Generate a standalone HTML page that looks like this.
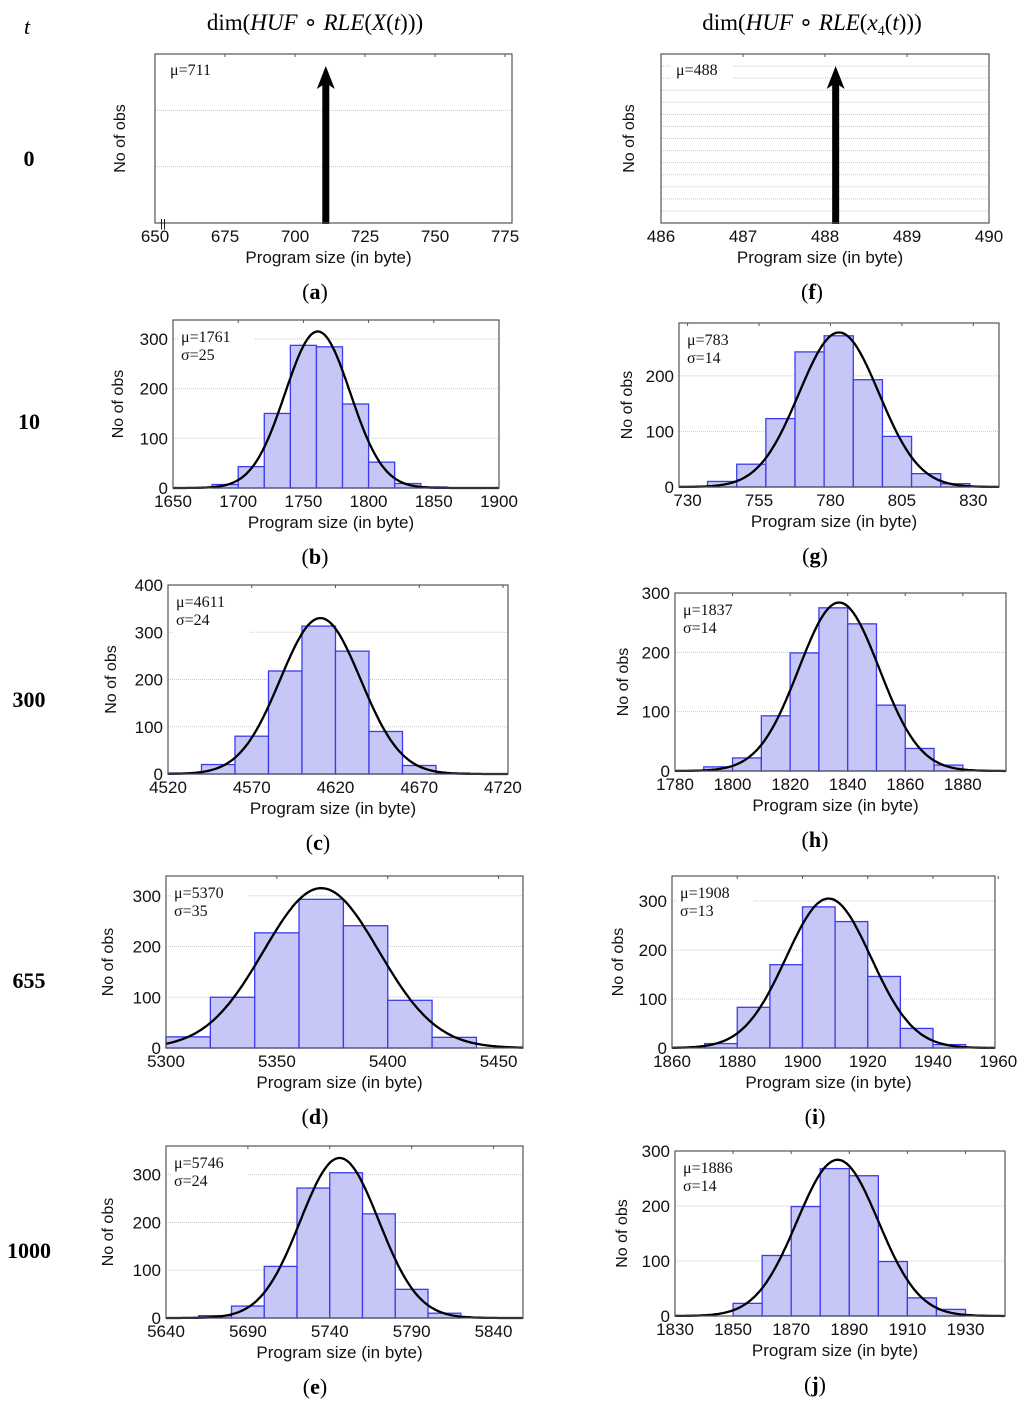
<!DOCTYPE html>
<html><head><meta charset="utf-8"><style>
html,body{margin:0;padding:0;background:#fff;}
svg{display:block;}
.tk{font-family:"Liberation Sans",sans-serif;font-size:17px;fill:#111;}
.ax{font-family:"Liberation Sans",sans-serif;font-size:17px;fill:#111;}
.yl{font-family:"Liberation Sans",sans-serif;font-size:16px;fill:#111;}
.an{font-family:"Liberation Serif",serif;font-size:16px;fill:#111;}
.sf{font-family:"Liberation Serif",serif;fill:#000;}
</style></head><body>
<svg id="fig" width="1024" height="1404" viewBox="0 0 1024 1404" xmlns="http://www.w3.org/2000/svg">
<text class="sf" x="27" y="34" font-size="22" font-style="italic" text-anchor="middle">t</text>
<text class="sf" x="315" y="30" font-size="23" text-anchor="middle">dim(<tspan font-style="italic">HUF</tspan> ∘ <tspan font-style="italic">RLE</tspan>(<tspan font-style="italic">X</tspan>(<tspan font-style="italic">t</tspan>)))</text>
<text class="sf" x="812" y="30" font-size="23" text-anchor="middle">dim(<tspan font-style="italic">HUF</tspan> ∘ <tspan font-style="italic">RLE</tspan>(<tspan font-style="italic">x</tspan><tspan font-size="14" dy="5">4</tspan><tspan dy="-5">(</tspan><tspan font-style="italic">t</tspan>)))</text>
<g font-weight="bold" font-size="22" class="sf" text-anchor="middle">
<text x="29" y="166">0</text>
<text x="29" y="429">10</text>
<text x="29" y="707">300</text>
<text x="29" y="988">655</text>
<text x="29" y="1258">1000</text>
</g>
<g id="panels"></g>
</svg>
<script>
// ---- data ----
const muA = 711, muF = 488.13;
const binStartB = 1680, binWidthB = 20;
const countsB = [7, 43, 150, 287, 284, 169, 52, 9, 2];
const fitB = [1761, 25, 315, 25];
const binStartC = 4520, binWidthC = 20;
const countsC = [2, 20, 80, 218, 313, 260, 90, 18, 2];
const fitC = [4611, 24, 330, 24];
const binStartD = 5300, binWidthD = 20;
const countsD = [22, 100, 227, 293, 241, 94, 21];
const fitD = [5370, 35, 315, 26];
const binStartE = 5660, binWidthE = 20;
const countsE = [5, 25, 108, 272, 304, 218, 60, 10];
const fitE = [5746, 24, 335, 24];
const binStartG = 737, binWidthG = 10.2;
const countsG = [10, 41, 123, 243, 272, 193, 91, 24, 6];
const fitG = [783, 14, 278, 14];
const binStartH = 1790, binWidthH = 10;
const countsH = [7, 22, 93, 199, 275, 248, 111, 38, 10];
const fitH = [1837, 14, 284, 14];
const binStartI = 1870, binWidthI = 10;
const countsI = [9, 83, 170, 288, 258, 146, 40, 7];
const fitI = [1908, 13, 305, 13];
const binStartJ = 1850, binWidthJ = 10;
const countsJ = [23, 110, 199, 268, 255, 99, 33, 12];
const fitJ = [1886, 14, 284, 14];
const xTicksA = [650, 675, 700, 725, 750, 775];
const xTicksF = [486, 487, 488, 489, 490];
const xTicksB = [1650, 1700, 1750, 1800, 1850, 1900];
const xTicksC = [4520, 4570, 4620, 4670, 4720];
const xTicksD = [5300, 5350, 5400, 5450];
const xTicksE = [5640, 5690, 5740, 5790, 5840];
const xTicksG = [730, 755, 780, 805, 830];
const xTicksH = [1780, 1800, 1820, 1840, 1860, 1880];
const xTicksI = [1860, 1880, 1900, 1920, 1940, 1960];
const xTicksJ = [1830, 1850, 1870, 1890, 1910, 1930];
const yTicks300 = [0, 100, 200, 300];
const yTicks400 = [0, 100, 200, 300, 400];
const yTicks200 = [0, 100, 200];

const NS = "http://www.w3.org/2000/svg";
const root = document.getElementById('panels');
function mk(tag, attrs, parent, txt) {
  const e = document.createElementNS(NS, tag);
  for (const k in attrs) e.setAttribute(k, attrs[k]);
  if (txt !== undefined) e.textContent = txt;
  (parent || root).appendChild(e);
  return e;
}

function panel(id, L, R, T, B, xmin, xmax, ymax, xt, yt, ylX, opts) {
  const g = mk('g', {});
  
  
  const sx = v => L + (v - xmin) / (xmax - xmin) * (R - L);
  const sy = v => B - v / ymax * (B - T);
  (opts.grid || yt).forEach(v => {
    if (v <= 0) return;
    const gl = mk('line', {x1: L, x2: R, y1: sy(v), y2: sy(v), stroke: '#c8c8c8', 'stroke-width': 1, 'stroke-dasharray': '1,1'}, g);
    
    
  });
  if (opts.counts) {
    opts.counts.forEach((c, i) => {
      const x0 = sx(opts.start + i * opts.width), x1 = sx(opts.start + (i + 1) * opts.width);
      const r = mk('rect', {x: x0, y: sy(c), width: x1 - x0, height: B - sy(c), fill: '#c6c6f7', stroke: '#3c3cee', 'stroke-width': 1.3}, g);
      
      
    });
  }
  if (opts.fit) {
    const bg = mk('rect', {x: L + 6, y: T + 6, width: 76, height: 42, fill: '#fff'}, g);
    
    
    const t1 = mk('text', {class: 'an', x: L + 8, y: T + 22}, g, 'μ=' + opts.fit[0]);
    
    
    const t2 = mk('text', {class: 'an', x: L + 8, y: T + 40}, g, 'σ=' + opts.fit[1]);
    
    
    const mu = opts.fit[0], pk = opts.fit[2], sd = opts.fit[3];
    let d = '';
    for (let k = 0; k <= 200; k++) {
      const v = xmin + (xmax - xmin) * k / 200;
      const y = pk * Math.exp(-0.5 * ((v - mu) / sd) ** 2);
      d += (k ? 'L' : 'M') + sx(v).toFixed(1) + ',' + sy(y).toFixed(1);
    }
    const p = mk('path', {d: d, fill: 'none', stroke: '#000', 'stroke-width': 2.3}, g);
    
    
  }
  if (opts.mu !== undefined) {
    const bg = mk('rect', {x: L + 10, y: T + 6, width: 62, height: 20, fill: '#fff'}, g);
    
    
    const t1 = mk('text', {class: 'an', x: L + 15, y: T + 21, 'font-size': 15}, g, 'μ=' + opts.muLabel);
    
    
    const ax = sx(opts.mu);
    const s = mk('line', {x1: ax, x2: ax, y1: B + 1, y2: T + 25, stroke: '#000', 'stroke-width': 7}, g);
    
    
    const h = mk('polygon', {points: (ax - 9) + ',' + (T + 35) + ' ' + ax + ',' + (T + 12) + ' ' + (ax + 9) + ',' + (T + 35) + ' ' + ax + ',' + (T + 29)}, g);
    
    
  }
  const f = mk('rect', {x: L, y: T, width: R - L, height: B - T, fill: 'none', stroke: '#555', 'stroke-width': 1.2}, g);
  
  
  if (opts.breakMark) {
    const bm = mk('text', {x: L + 8, y: B + 4, 'font-size': 11, 'font-family': 'Liberation Sans, sans-serif', 'text-anchor': 'middle'}, g, '||');
    
    
  }
  xt.forEach(v => {
    const x = sx(v);
    const tl = mk('line', {x1: x, x2: x, y1: T, y2: T + 3, stroke: '#555'}, g);
    
    
    const t = mk('text', {class: 'tk', x: x, y: B + 19, 'text-anchor': 'middle'}, g, String(v));
    
    
  });
  yt.forEach(v => {
    const t = mk('text', {class: 'tk', x: L - 5, y: sy(v) + 6, 'text-anchor': 'end'}, g, String(v));
    
    
  });
  const xl = mk('text', {class: 'ax', x: (L + R) / 2 - 5, y: B + 40, 'text-anchor': 'middle'}, g, 'Program size (in byte)');
  
  
  const ym = (T + B) / 2;
  const yl = mk('text', {class: 'yl', x: ylX, y: ym, 'text-anchor': 'middle', transform: 'rotate(-90 ' + ylX + ' ' + ym + ')'}, g, 'No of obs');
  
  
  const cap = mk('text', {class: 'sf', x: opts.capX, y: B + 76, 'text-anchor': 'middle', 'font-size': 22}, g, '');
  
  
  mk('tspan', {}, cap, '(');
  mk('tspan', {'font-weight': 'bold'}, cap, id);
  mk('tspan', {}, cap, ')');
}

panel('a', 155, 512, 54, 223, 650, 777.5, 3, xTicksA, [], 125, {grid: [1, 2], mu: muA, muLabel: '711', breakMark: true, capX: 315});
panel('f', 661, 989, 54, 223, 486, 490, 14, xTicksF, [], 634, {grid: [1,2,3,4,5,6,7,8,9,10,11,12,13], mu: muF, muLabel: '488', capX: 812});
panel('b', 173, 499, 320, 488, 1650, 1900, 338, xTicksB, yTicks300, 123, {counts: countsB, start: binStartB, width: binWidthB, fit: fitB, capX: 315});
panel('g', 679, 999, 323, 487, 727, 839, 295, xTicksG, yTicks200, 632, {counts: countsG, start: binStartG, width: binWidthG, fit: fitG, capX: 815});
panel('c', 168, 508, 585, 774, 4520, 4723, 400, xTicksC, yTicks400, 116, {counts: countsC, start: binStartC, width: binWidthC, fit: fitC, capX: 318});
panel('h', 675, 1006, 593, 771, 1780, 1895, 300, xTicksH, yTicks300, 628, {counts: countsH, start: binStartH, width: binWidthH, fit: fitH, capX: 815});
panel('d', 166, 523, 876, 1048, 5300, 5461, 339, xTicksD, yTicks300, 113, {counts: countsD, start: binStartD, width: binWidthD, fit: fitD, capX: 315});
panel('i', 672, 995, 876, 1048, 1860, 1959, 351, xTicksI, yTicks300, 623, {counts: countsI, start: binStartI, width: binWidthI, fit: fitI, capX: 815});
panel('e', 166, 523, 1146, 1318, 5640, 5858, 360, xTicksE, yTicks300, 113, {counts: countsE, start: binStartE, width: binWidthE, fit: fitE, capX: 315});
panel('j', 675, 1005, 1151, 1316, 1830, 1943.6, 300, xTicksJ, yTicks300, 627, {counts: countsJ, start: binStartJ, width: binWidthJ, fit: fitJ, capX: 815});
</script>
</body></html>
